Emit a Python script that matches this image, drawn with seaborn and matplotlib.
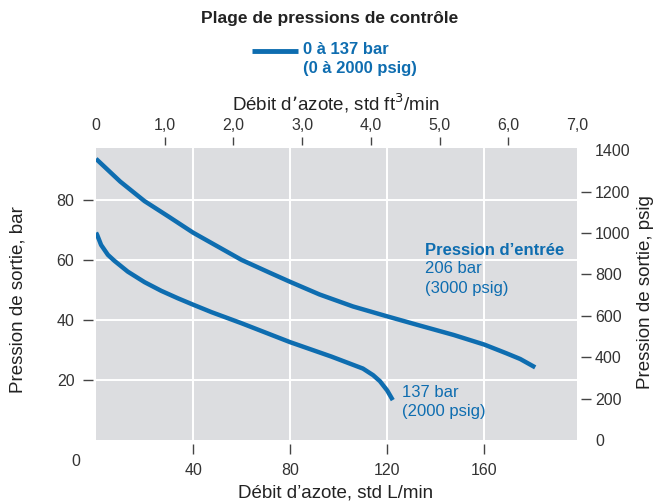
import matplotlib
matplotlib.use("Agg")
import matplotlib.pyplot as plt
import seaborn as sns
import pandas as pd
import numpy as np

# ---- data ----
flow_206 = [0, 10, 20, 30, 40, 60, 71.7, 80, 92.1, 105.9, 120, 133.6, 147.4, 160, 169.1, 174.8, 181]
press_206 = [93.7, 86.1, 79.6, 74.4, 69.1, 60.0, 55.7, 52.7, 48.5, 44.5, 41.2, 38.1, 35.0, 31.8, 28.9, 27.0, 24.2]
flow_137 = [0, 0.5, 2.1, 4.9, 7.6, 13.1, 20, 26.9, 33.8, 40, 47.6, 60, 80, 97, 110, 114.2, 117, 120, 122.3]
press_137 = [69.1, 68.3, 65.0, 61.7, 59.7, 56.1, 52.6, 49.7, 47.2, 45.1, 42.6, 38.9, 32.6, 27.8, 23.8, 21.6, 19.6, 16.5, 13.3]

bottom_ticks = [40, 80, 120, 160]
left_ticks = [20, 40, 60, 80]
top_ticks = [0, 1, 2, 3, 4, 5, 6, 7]
top_labels = ["0", "1,0", "2,0", "3,0", "4,0", "5,0", "6,0", "7,0"]
right_ticks = [0, 200, 400, 600, 800, 1000, 1200, 1400]

BAR_TO_PSI = 14.5038
LPM_PER_CFM = 28.317
BLUE = "#0e6db0"
GREY_TXT = "#333333"
TICK_FS = 11.5
LABEL_FS = 13.5
TXT_FS = 12

sns.set_theme(style="white")
plt.rcParams["font.family"] = ["Liberation Sans", "DejaVu Sans"]

fig = plt.figure(figsize=(6.56, 5.04), dpi=100)
ax = fig.add_axes([96/656, 1-440/504, (577-96)/656, (440-148)/504])
ax.set_facecolor("#dcdde0")

df = pd.concat([
    pd.DataFrame({"flow": flow_206, "press": press_206, "inlet": "206"}),
    pd.DataFrame({"flow": flow_137, "press": press_137, "inlet": "137"}),
])
for key in ["206", "137"]:
    sub = df[df["inlet"] == key]
    x = np.array(sub["flow"]); y = np.array(sub["press"])
    sns.lineplot(x=x, y=y, ax=ax, color=BLUE, lw=3.2, sort=False,
                 solid_capstyle="butt", solid_joinstyle="round", legend=False)

xmax = 7 * LPM_PER_CFM
ymax = 97.3
ax.set_xlim(0, xmax)
ax.set_ylim(0, ymax)

for v in bottom_ticks:
    ax.axvline(v, color="white", lw=1.4, zorder=0.5)
for v in left_ticks:
    ax.axhline(v, color="white", lw=1.4, zorder=0.5)

for s in ax.spines.values():
    s.set_visible(False)
ax.spines["bottom"].set_position(("outward", 3))
ax.spines["left"].set_position(("outward", 2))
ax.set_xticks(bottom_ticks)
ax.set_yticks(left_ticks)
ax.tick_params(axis="both", which="major", direction="out", length=7.5, width=1,
               color="#444444", labelsize=TICK_FS, labelcolor=GREY_TXT, pad=6,
               bottom=True, left=True)
ax.set_xlabel("")
ax.set_ylabel("")

# top axis (ft3/min)
axt = ax.twiny()
axt.set_xlim(0, 7)
for s in axt.spines.values():
    s.set_visible(False)
axt.spines["top"].set_position(("outward", 2))
axt.set_xticks(top_ticks)
axt.set_xticklabels(top_labels)
axt.tick_params(axis="x", direction="out", length=6, width=1, color="#444444",
                labelsize=TICK_FS, labelcolor=GREY_TXT, pad=3, top=True)
for i in (0, len(top_ticks) - 1):
    axt.xaxis.get_major_ticks()[i].tick2line.set_visible(False)
axt.grid(False)

# right axis (psig)
axr = ax.twinx()
axr.set_ylim(0, ymax * BAR_TO_PSI)
for s in axr.spines.values():
    s.set_visible(False)
axr.spines["right"].set_position(("outward", 3))
axr.set_yticks(right_ticks)
axr.tick_params(axis="y", direction="out", length=7, width=1, color="#444444",
                labelsize=TICK_FS, labelcolor=GREY_TXT, pad=3, right=True)
for i in (0, len(right_ticks) - 1):
    axr.yaxis.get_major_ticks()[i].tick2line.set_visible(False)
axr.grid(False)
ax.grid(False)

# texts
fig.text(330/656, 1-18/504, "Plage de pressions de contrôle", ha="center", va="center",
         fontsize=12.5, fontweight="bold", color="#222222")
fig.add_artist(plt.Line2D([252/656, 298/656], [1-51/504, 1-51/504], color=BLUE, lw=3.5,
                          solid_capstyle="butt"))
fig.text(303/656, 1-50/504, "0 à 137 bar", ha="left", va="center", fontsize=TXT_FS,
         fontweight="bold", color=BLUE)
fig.text(303/656, 1-68/504, "(0 à 2000 psig)", ha="left", va="center", fontsize=TXT_FS,
         fontweight="bold", color=BLUE)
fig.text(336/656, 1-103/504, "Débit d\u2019azote, std ft$^{3}$/min", ha="center", va="center",
         fontsize=LABEL_FS, color="#222222")
fig.text(336/656, 1-493/504, "Débit d\u2019azote, std L/min", ha="center", va="center",
         fontsize=LABEL_FS, color="#222222")
fig.text(76/656, 1-462/504, "0", ha="center", va="center", fontsize=TICK_FS, color=GREY_TXT)
fig.text(18/656, 1-300/504, "Pression de sortie, bar", ha="center", va="center",
         rotation=90, fontsize=LABEL_FS, color="#222222")
fig.text(646/656, 1-292/504, "Pression de sortie, psig", ha="center", va="center",
         rotation=90, fontsize=LABEL_FS, color="#222222")

ax.text(135.5, 63.3, "Pression d\u2019entrée", ha="left", va="center", fontsize=TXT_FS,
        fontweight="bold", color=BLUE)
ax.text(135.5, 57.3, "206 bar", ha="left", va="center", fontsize=TXT_FS, color=BLUE)
ax.text(135.5, 50.6, "(3000 psig)", ha="left", va="center", fontsize=TXT_FS, color=BLUE)
ax.text(126, 15.7, "137 bar", ha="left", va="center", fontsize=TXT_FS, color=BLUE)
ax.text(126, 9.5, "(2000 psig)", ha="left", va="center", fontsize=TXT_FS, color=BLUE)

fig.savefig("out.png", dpi=100)
